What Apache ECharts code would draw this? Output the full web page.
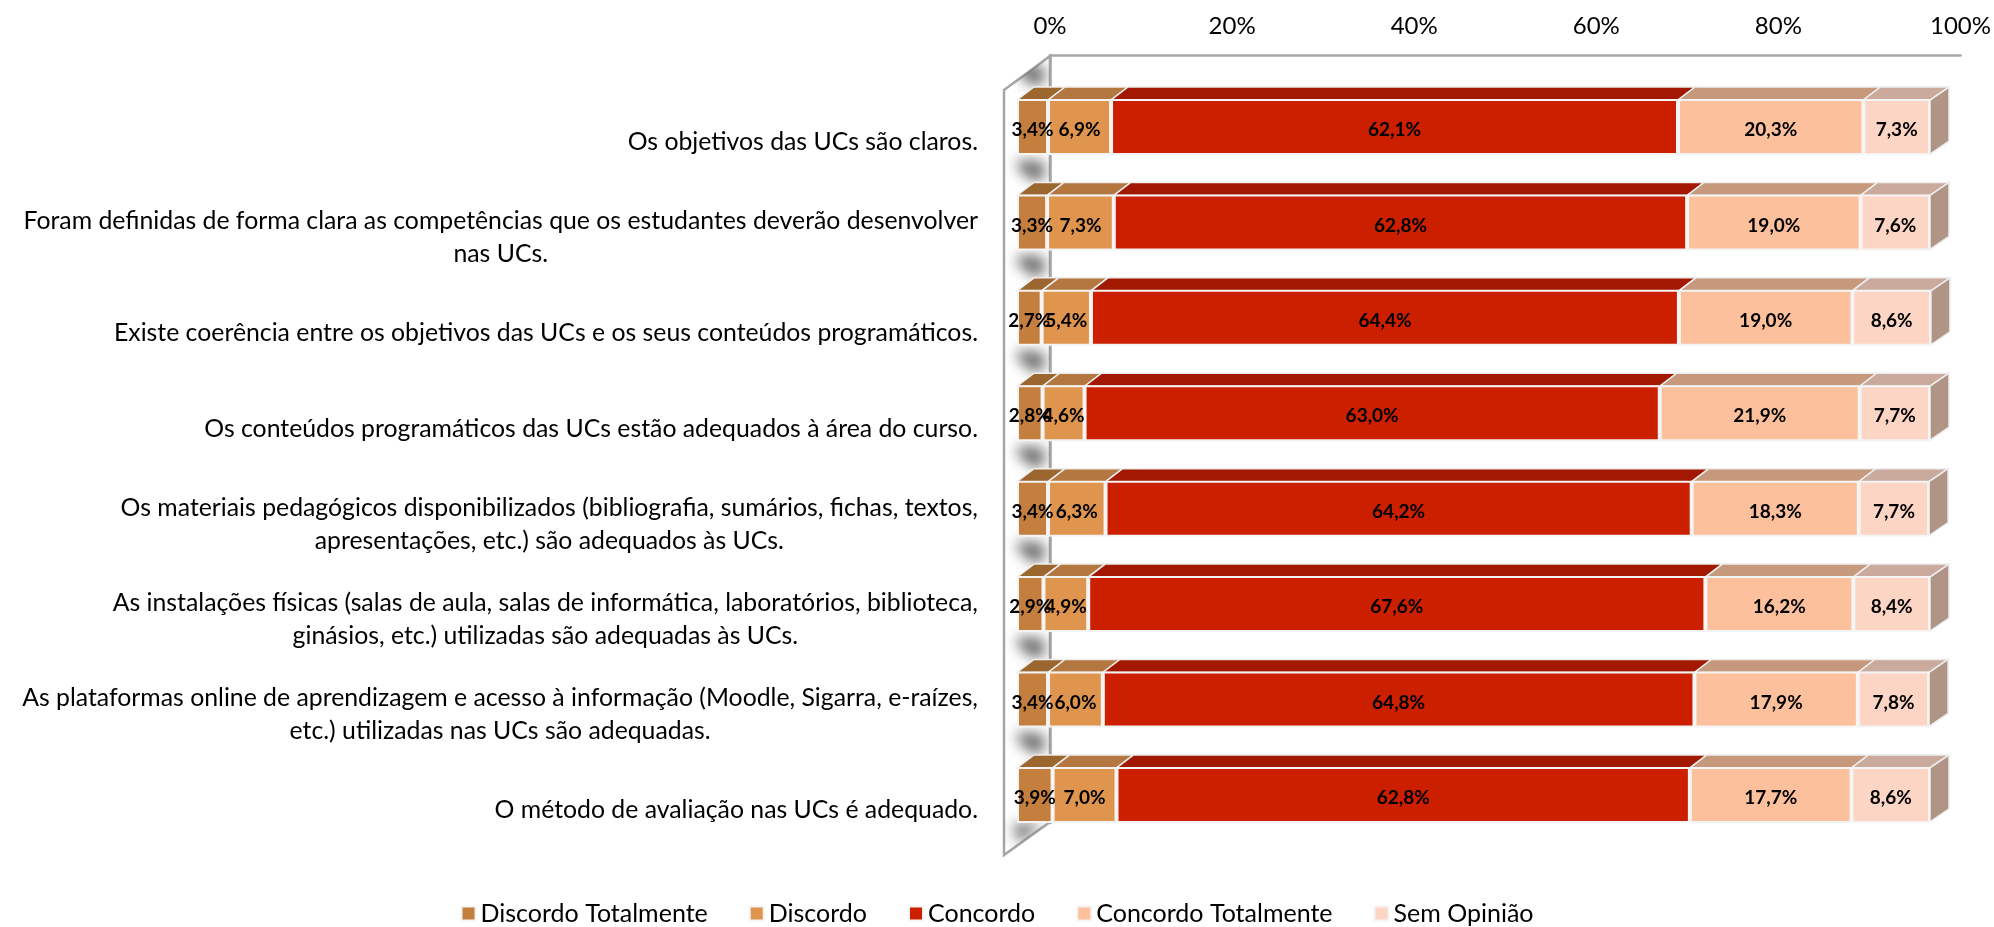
<!DOCTYPE html>
<html style="height: 100%">
<head>
<meta charset="utf-8">
<script src="https://cdn.jsdelivr.net/npm/echarts@6/dist/echarts.min.js"></script>
<style>*{margin:0;padding:0;} body{background:#fff;}</style>
</head>
<body style="height: 100%; margin: 0">
<div id="container" style="width:1994px;height:927px"></div>
<script type="text/javascript">
var questions = [
  ['Os objetivos das UCs são claros.'],
  ['Foram definidas de forma clara as competências que os estudantes deverão desenvolver', 'nas UCs.'],
  ['Existe coerência entre os objetivos das UCs e os seus conteúdos programáticos.'],
  ['Os conteúdos programáticos das UCs estão adequados à área do curso.'],
  ['Os materiais pedagógicos disponibilizados (bibliografia, sumários, fichas, textos,', 'apresentações, etc.) são adequados às UCs.'],
  ['As instalações físicas (salas de aula, salas de informática, laboratórios, biblioteca,', 'ginásios, etc.) utilizadas são adequadas às UCs.'],
  ['As plataformas online de aprendizagem e acesso à informação (Moodle, Sigarra, e-raízes,', 'etc.) utilizadas nas UCs são adequadas.'],
  ['O método de avaliação nas UCs é adequado.']
];
var discordoTotalmente = [3.4, 3.3, 2.7, 2.8, 3.4, 2.9, 3.4, 3.9];
var discordo = [6.9, 7.3, 5.4, 4.6, 6.3, 4.9, 6.0, 7.0];
var concordo = [62.1, 62.8, 64.4, 63.0, 64.2, 67.6, 64.8, 62.8];
var concordoTotalmente = [20.3, 19.0, 19.0, 21.9, 18.3, 16.2, 17.9, 17.7];
var semOpiniao = [7.3, 7.6, 8.6, 7.7, 7.7, 8.4, 7.8, 8.6];
var seriesNames = ['Discordo Totalmente', 'Discordo', 'Concordo', 'Concordo Totalmente', 'Sem Opinião'];
var frontColors = ['#c47f3f', '#e0954f', '#cb1f00', '#fcc09c', '#fdd5c4'];
var topColors = ['#9c662f', '#b3773f', '#a31800', '#c6997c', '#caaa9c'];
var sideColor = '#b09486';
var allValues = [discordoTotalmente, discordo, concordo, concordoTotalmente, semOpiniao];

var FONT = 'Lato';
var DX = 17, DY = 13;
var BAR_H = 56;
var wallPoints = [[1004, 90], [1050, 56], [1050, 822], [1004, 855]];

var categories = questions.map(function (lines) { return lines.join('\n'); });

function pct(v) { return v.toFixed(1).replace('.', ',') + '%'; }

// tampa e lado das barras (falso 3D)
function faces(s) {
  return function (params, api) {
    var i = api.value(0);
    var c = api.coord([api.value(1), i]);
    var e = api.coord([api.value(2), i]);
    var y0 = c[1] - BAR_H / 2 + 1, y1 = c[1] + BAR_H / 2 - 1;
    var endDx = s === 4 ? DX + 2 : DX;
    var kids = [{
      type: 'polygon',
      shape: {points: [[c[0], y0], [e[0], y0], [e[0] + endDx, y0 - DY], [c[0] + DX, y0 - DY]]},
      style: {fill: topColors[s], stroke: '#eeeeee', lineWidth: 1.5}
    }];
    if (s === 4) {
      kids.push({
        type: 'polygon',
        shape: {points: [[e[0], y0], [e[0] + endDx, y0 - DY], [e[0] + endDx, y1 - DY], [e[0], y1]]},
        style: {fill: sideColor, stroke: '#eeeeee', lineWidth: 1.5}
      });
    }
    return {type: 'group', children: kids};
  };
}

// a forma fica fora do ecra, so a sombra desfocada cai na parede
var OFF = 3000;
function blur(points) {
  return {
    type: 'polygon',
    shape: {points: points.map(function (p) { return [p[0] - OFF, p[1]]; })},
    style: {fill: '#000', shadowColor: 'rgba(105,105,105,0.95)', shadowBlur: 13, shadowOffsetX: OFF}
  };
}

// sombra na parede atras de cada barra
function wallShadow(params, api) {
  var i = api.value(1);
  var c = api.coord([0, i]);
  var x = c[0], t = c[1] - BAR_H / 2, b = c[1] + BAR_H / 2;
  var kids = [blur([[x + 1, t - 35], [x + 27, t - 33], [x + 28, t - 16], [x + 16, t - 13], [x + 1, t - 25]])];
  if (i === questions.length - 1) {
    kids.push(blur([[x - 4, b + 1], [x + 26, b + 1], [x + 1, b + 20]]));
  }
  return {
    type: 'group',
    children: kids,
    clipPath: {type: 'polygon', shape: {points: wallPoints}}
  };
}

var series = [{
  type: 'custom',
  xAxisIndex: 0, yAxisIndex: 0,
  renderItem: wallShadow,
  data: questions.map(function (q, i) { return [0, i]; }),
  encode: {x: 0, y: 1},
  silent: true,
  clip: false,
  z: 1
}];
var running = questions.map(function () { return 0; });
seriesNames.forEach(function (name, s) {
  var segs = allValues[s].map(function (v, i) {
    var seg = [i, running[i], running[i] + v];
    running[i] += v;
    return seg;
  });
  series.push({
    type: 'custom',
    xAxisIndex: 0, yAxisIndex: 0,
    renderItem: faces(s),
    data: segs,
    encode: {x: [1, 2], y: 0},
    silent: true,
    z: 3
  });
  series.push({
    name: name,
    type: 'bar',
    stack: 'total',
    xAxisIndex: 0, yAxisIndex: 0,
    data: allValues[s],
    barWidth: BAR_H,
    itemStyle: {color: frontColors[s], borderColor: '#f4f4f4', borderWidth: 2},
    label: {
      show: true, position: 'inside', offset: [0, 3], color: '#000',
      fontFamily: FONT, fontWeight: 'bold', fontSize: 19,
      formatter: function (p) { return pct(p.value); }
    },
    z: 4
  });
});

var myChart = echarts.init(document.getElementById('container'));
myChart.setOption({
  animation: false,
  backgroundColor: '#fff',
  textStyle: {fontFamily: FONT},
  legend: {
    top: 896, left: 'center',
    data: seriesNames,
    itemWidth: 14, itemHeight: 14, itemGap: 41,
    icon: 'rect',
    textStyle: {fontSize: 25, fontFamily: FONT, color: '#000'}
  },
  grid: [
    {left: 1017, width: 913, top: 79.3, height: 763.3},
    {left: 1050, width: 914, top: 55, height: 768}
  ],
  xAxis: [
    {gridIndex: 0, type: 'value', min: 0, max: 100, show: false},
    {
      gridIndex: 1, type: 'value', min: 0, max: 100, interval: 20, position: 'top',
      axisLine: {show: true, lineStyle: {color: '#a6a6a6', width: 2.5}},
      axisTick: {show: false},
      splitLine: {show: false},
      axisLabel: {fontSize: 24, color: '#000', margin: 17, fontFamily: FONT,
        formatter: '{value}%', hideOverlap: false}
    }
  ],
  yAxis: [
    {
      gridIndex: 0, type: 'category', inverse: true, data: categories,
      axisLine: {show: false}, axisTick: {show: false},
      axisLabel: {
        margin: 39, color: '#000', fontFamily: FONT, fontSize: 24.8, lineHeight: 33, align: 'right',
        padding: [31, 0, 0, 0],
        rich: {c: {align: 'center', fontFamily: FONT, fontSize: 24.8, lineHeight: 33, color: '#000'}},
        formatter: function (v) {
          return v.split('\n').map(function (l) { return '{c|' + l + '}'; }).join('\n');
        }
      }
    },
    {
      gridIndex: 1, type: 'category', inverse: true, data: categories,
      axisLine: {show: true, lineStyle: {color: '#a6a6a6', width: 2.5}},
      axisTick: {show: false}, axisLabel: {show: false}
    }
  ],
  // parede lateral do grafico
  graphic: [
    {type: 'polygon', shape: {points: wallPoints},
      style: {fill: 'none', stroke: '#a6a6a6', lineWidth: 2.5}}
  ],
  series: series
});
</script>
</body>
</html>
